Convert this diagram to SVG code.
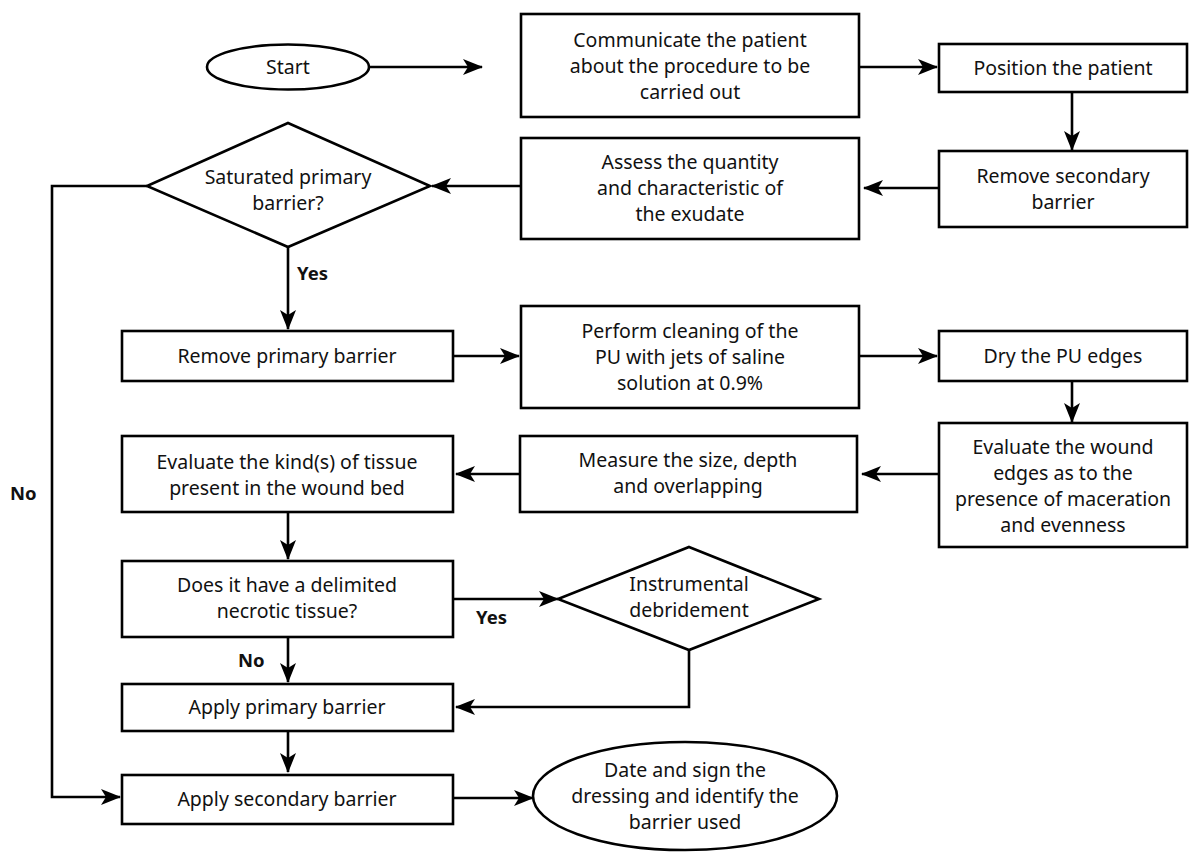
<svg xmlns="http://www.w3.org/2000/svg" width="1197" height="857" viewBox="0 0 1197 857">
<style>
.n{fill:#fff;stroke:#000;stroke-width:2.6}
.t{font-family:"Noto Sans","Open Sans",sans-serif;font-size:19.5px;fill:#111;text-anchor:middle}
.b{font-family:"Noto Sans","Open Sans",sans-serif;font-size:18.5px;font-weight:bold;fill:#111}
.c{fill:none;stroke:#000;stroke-width:2.6}
</style>
<defs>
<marker id="a" markerUnits="userSpaceOnUse" viewBox="0 0 20 16" refX="19" refY="8" markerWidth="20" markerHeight="16" orient="auto">
<path d="M0,0 L20,8 L0,16 L5,8 Z" fill="#000"/>
</marker>
</defs>
<rect width="1197" height="857" fill="#fff"/>
<g id="connectors">
<line class="c" x1="368" y1="67" x2="482" y2="67" marker-end="url(#a)"/>
<line class="c" x1="859" y1="67" x2="937" y2="67" marker-end="url(#a)"/>
<line class="c" x1="1072" y1="92" x2="1072" y2="150" marker-end="url(#a)"/>
<line class="c" x1="939" y1="188" x2="864" y2="188" marker-end="url(#a)"/>
<line class="c" x1="521" y1="186" x2="432" y2="186" marker-end="url(#a)"/>
<polyline class="c" points="147,186 52,186 52,797 120,797" marker-end="url(#a)"/>
<line class="c" x1="288" y1="247" x2="288" y2="329" marker-end="url(#a)"/>
<line class="c" x1="453" y1="356" x2="519" y2="356" marker-end="url(#a)"/>
<line class="c" x1="859" y1="356" x2="937" y2="356" marker-end="url(#a)"/>
<line class="c" x1="1072" y1="381" x2="1072" y2="422" marker-end="url(#a)"/>
<line class="c" x1="939" y1="474" x2="862" y2="474" marker-end="url(#a)"/>
<line class="c" x1="520" y1="474" x2="456" y2="474" marker-end="url(#a)"/>
<line class="c" x1="288" y1="512" x2="288" y2="559" marker-end="url(#a)"/>
<line class="c" x1="453" y1="599" x2="558" y2="599" marker-end="url(#a)"/>
<polyline class="c" points="689,650 689,707 456,707" marker-end="url(#a)"/>
<line class="c" x1="288" y1="637" x2="288" y2="682" marker-end="url(#a)"/>
<line class="c" x1="288" y1="731" x2="288" y2="772" marker-end="url(#a)"/>
<line class="c" x1="453" y1="798" x2="533" y2="798" marker-end="url(#a)"/>
<text class="b" x="297" y="280">Yes</text>
<text class="b" x="476" y="624">Yes</text>
<text class="b" x="238" y="667">No</text>
<text class="b" x="10" y="500">No</text>
</g>
<g id="start"><ellipse class="n" cx="288" cy="67" rx="81" ry="22.5"/><text class="t" x="288" y="74">Start</text></g>
<g id="communicate"><rect class="n" x="521" y="14" width="338" height="103"/><text class="t" x="690" y="47">Communicate the patient</text><text class="t" x="690" y="73">about the procedure to be</text><text class="t" x="690" y="99">carried out</text></g>
<g id="position"><rect class="n" x="939" y="44" width="248" height="48"/><text class="t" x="1063" y="75">Position the patient</text></g>
<g id="remove-secondary"><rect class="n" x="939" y="151" width="248" height="76"/><text class="t" x="1063" y="183">Remove secondary</text><text class="t" x="1063" y="209">barrier</text></g>
<g id="assess"><rect class="n" x="521" y="138" width="338" height="101"/><text class="t" x="690" y="169">Assess the quantity</text><text class="t" x="690" y="195">and characteristic of</text><text class="t" x="690" y="221">the exudate</text></g>
<g id="saturated"><polygon class="n" points="288,123 430,186 288,247 147,186"/><text class="t" x="288" y="184">Saturated primary</text><text class="t" x="288" y="210">barrier?</text></g>
<g id="remove-primary"><rect class="n" x="122" y="331" width="331" height="50"/><text class="t" x="287" y="363">Remove primary barrier</text></g>
<g id="cleaning"><rect class="n" x="521" y="306" width="338" height="102"/><text class="t" x="690" y="338">Perform cleaning of the</text><text class="t" x="690" y="364">PU with jets of saline</text><text class="t" x="690" y="390">solution at 0.9%</text></g>
<g id="dry"><rect class="n" x="939" y="331" width="248" height="50"/><text class="t" x="1063" y="363">Dry the PU edges</text></g>
<g id="evaluate-edges"><rect class="n" x="939" y="423" width="248" height="124"/><text class="t" x="1063" y="454">Evaluate the wound</text><text class="t" x="1063" y="480">edges as to the</text><text class="t" x="1063" y="506">presence of maceration</text><text class="t" x="1063" y="532">and evenness</text></g>
<g id="measure"><rect class="n" x="520" y="436" width="337" height="76"/><text class="t" x="688" y="467">Measure the size, depth</text><text class="t" x="688" y="493">and overlapping</text></g>
<g id="evaluate-tissue"><rect class="n" x="122" y="436" width="331" height="76"/><text class="t" x="287" y="469">Evaluate the kind(s) of tissue</text><text class="t" x="287" y="495">present in the wound bed</text></g>
<g id="necrotic"><rect class="n" x="122" y="561" width="331" height="76"/><text class="t" x="287" y="592">Does it have a delimited</text><text class="t" x="287" y="618">necrotic tissue?</text></g>
<g id="debridement"><polygon class="n" points="689,547 819,599 689,650 558,599"/><text class="t" x="689" y="591">Instrumental</text><text class="t" x="689" y="617">debridement</text></g>
<g id="apply-primary"><rect class="n" x="122" y="684" width="331" height="47"/><text class="t" x="287" y="714">Apply primary barrier</text></g>
<g id="apply-secondary"><rect class="n" x="122" y="775" width="331" height="49"/><text class="t" x="287" y="806">Apply secondary barrier</text></g>
<g id="date-sign"><ellipse class="n" cx="685" cy="796" rx="152" ry="54"/><text class="t" x="685" y="777">Date and sign the</text><text class="t" x="685" y="803">dressing and identify the</text><text class="t" x="685" y="829">barrier used</text></g>
</svg>
